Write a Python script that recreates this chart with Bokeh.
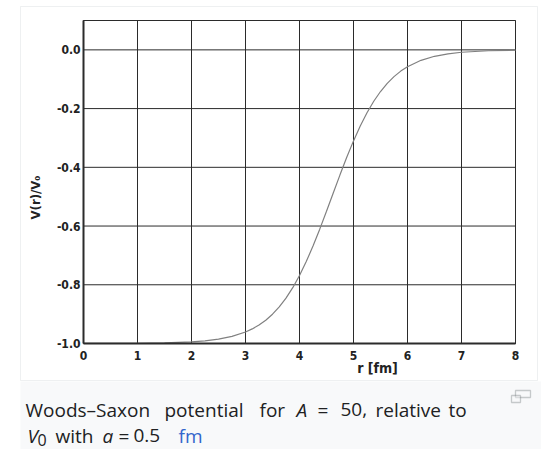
from bokeh.plotting import figure
from bokeh.models import Range1d, FixedTicker, PrintfTickFormatter, Label, BoxAnnotation, LinearAxis
from bokeh.embed import file_html
from bokeh.resources import INLINE
import math

# data: V(r)/V0 for A = 50, a = 0.5 fm
r_vals = [0.0, 0.5, 1.0, 1.5, 2.0, 2.25, 2.5, 2.75, 3.0, 3.125, 3.25, 3.375, 3.5, 3.625,
          3.75, 3.875, 4.0, 4.125, 4.25, 4.375, 4.5, 4.625, 4.75, 4.875, 5.0, 5.125,
          5.25, 5.375, 5.5, 5.625, 5.75, 5.875, 6.0, 6.25, 6.5, 6.75, 7.0, 7.5, 8.0]
v_vals = [-0.9999, -0.9997, -0.9993, -0.9980, -0.9945, -0.9910, -0.9852, -0.9759, -0.9608,
          -0.9503, -0.9370, -0.9206, -0.9002, -0.8754, -0.8455, -0.8099, -0.7685, -0.7211,
          -0.6682, -0.6106, -0.5498, -0.4875, -0.4256, -0.3659, -0.3100, -0.2592, -0.2142,
          -0.1751, -0.1419, -0.1141, -0.0911, -0.0724, -0.0573, -0.0356, -0.0219, -0.0134,
          -0.0082, -0.0030, -0.0011]
x_ticks = [0, 1, 2, 3, 4, 5, 6, 7, 8]
y_ticks = [0.0, -0.2, -0.4, -0.6, -0.8, -1.0]
x_label = "r [fm]"
y_label = "V(r)/V\u2080"

# layout (pixels of the 541x449 page) and axis limits
W, H = 541, 449
FL, FR, FT, FB = 83, 515, 20, 343
X0, X1 = 0.0, 8.0
Y0, Y1 = -1.0, 0.1

def X(px):
    return X0 + (px - FL) * (X1 - X0) / (FR - FL)

def Y(py):
    return Y1 - (py - FT) * (Y1 - Y0) / (FB - FT)

def SY(py):
    return H - py

p = figure(width=W, height=H, x_range=Range1d(X(0), X(W)), y_range=Range1d(Y(H), Y(0)),
           output_backend="svg", toolbar_location=None,
           x_axis_location=None, y_axis_location=None,
           min_border=0, min_border_left=0, min_border_right=0, min_border_top=0, min_border_bottom=0)
p.grid.visible = False
p.border_fill_color = "white"
p.background_fill_color = "white"
p.outline_line_color = None

# thumbnail frame and caption background
p.add_layout(BoxAnnotation(left=20, right=537, top=SY(6), bottom=SY(380),
                           left_units="screen", right_units="screen", top_units="screen", bottom_units="screen",
                           fill_alpha=0, line_color="#c8ccd1", line_width=1, level="underlay"))
p.add_layout(BoxAnnotation(left=20, right=W, top=SY(381), bottom=SY(H),
                           left_units="screen", right_units="screen", top_units="screen", bottom_units="screen",
                           fill_color="#f8f9fa", fill_alpha=1, line_alpha=0, level="underlay"))

# grid lines from the tick arrays
p.segment(x0=x_ticks, x1=x_ticks, y0=[Y0] * len(x_ticks), y1=[Y1] * len(x_ticks),
          line_color="#2b2b2b", line_width=1)
p.segment(x0=[X0] * len(y_ticks), x1=[X1] * len(y_ticks), y0=y_ticks, y1=y_ticks,
          line_color="#2b2b2b", line_width=1)
p.quad(left=[X0], right=[X1], bottom=[Y0], top=[Y1], fill_alpha=0, line_color="#2b2b2b", line_width=1)

tick_font = "'Liberation Sans Narrow', 'DejaVu Sans Condensed', sans-serif"
xa = LinearAxis(fixed_location=Y0, ticker=FixedTicker(ticks=x_ticks), bounds=(X0, X1))
ya = LinearAxis(fixed_location=X0, ticker=FixedTicker(ticks=y_ticks), bounds=(Y0, Y1),
                formatter=PrintfTickFormatter(format="%.1f"))
for ax in (xa, ya):
    ax.axis_line_color = "#2b2b2b"
    ax.axis_line_width = 2
    ax.major_tick_out = 0
    ax.major_tick_in = 0
    ax.minor_tick_line_color = None
    ax.major_label_text_font = tick_font
    ax.major_label_text_font_style = "bold"
    ax.major_label_text_font_size = "12px"
    ax.major_label_text_color = "#222222"
xa.major_label_standoff = 7
ya.major_label_standoff = 3
p.add_layout(xa, "below")
p.add_layout(ya, "left")

p.line(r_vals, v_vals, line_color="#808080", line_width=1.2)

def lab(px, py, txt, font, style, size, color, align="left", baseline="alphabetic", angle=0.0):
    p.add_layout(Label(x=px, y=SY(py), x_units="screen", y_units="screen", text=txt, angle=angle,
                       text_font=font, text_font_style=style, text_font_size=size,
                       text_color=color, text_align=align, text_baseline=baseline))

lab(35, 197, y_label, tick_font, "bold", "13px", "#222222", "center", "middle", math.pi / 2)
lab(377, 367, x_label, tick_font, "bold", "14px", "#222222", "center", "middle")

cap_font = "Open Sans"
cap_col = "#202122"
def cap(px, py, txt, style="normal", size="19px", color=cap_col):
    lab(px, py, txt, cap_font, style, size, color)

B1, B2 = 409, 435
cap(25, B1, "Woods\u2013Saxon")
cap(164, B1, "potential")
cap(259, B1, "for")
cap(296, B1, "A", style="italic")
cap(317, B1, "=")
cap(340, B1, "50,")
cap(375, B1, "relative")
cap(448, B1, "to")
cap(27, B2, "V", style="italic")
cap(37, B2 + 4, "0", size="16px")
cap(55, B2, "with")
cap(102, B2, "a", style="italic")
cap(118, B2, "=")
cap(133, B2, "0.5")
cap(178, B2, "fm", color="#3366cc")

# enlarge icon
p.add_layout(BoxAnnotation(left=515, right=530, top=SY(390), bottom=SY(397),
                           left_units="screen", right_units="screen", top_units="screen", bottom_units="screen",
                           fill_color="#f8f9fa", line_color="#54595d", line_width=1.3))
p.add_layout(BoxAnnotation(left=511, right=520, top=SY(395), bottom=SY(402),
                           left_units="screen", right_units="screen", top_units="screen", bottom_units="screen",
                           fill_color="#f8f9fa", line_color="#54595d", line_width=1.3))

open("out.html", "w").write(file_html(p, INLINE))
